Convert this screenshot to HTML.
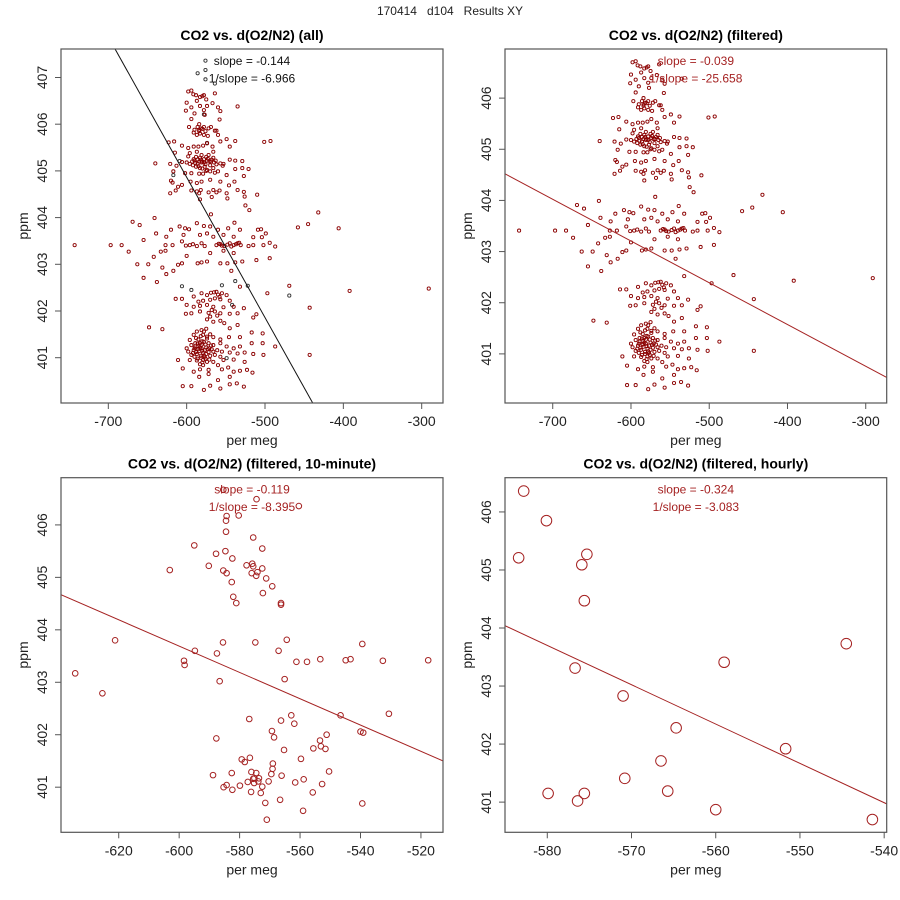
<!DOCTYPE html>
<html><head><meta charset="utf-8"><style>
html,body{margin:0;padding:0;background:#fff;}
svg{display:block;font-family:"Liberation Sans",sans-serif;}
</style></head><body>
<svg id="chart" width="900" height="900" viewBox="0 0 900 900" xmlns="http://www.w3.org/2000/svg">
<rect width="900" height="900" fill="#fff"/>
<text x="450" y="15" font-size="12" text-anchor="middle" fill="#222" xml:space="preserve">170414   d104   Results XY</text>
</svg>
<script>
// ---- data ----
const filteredPoints = [
[-598,406.7],[-594,406.72],[-591.5,406.64],[-587,406.5],[-580,406.6],[-578,406.62],[-575,406.53],[-564,406.66],[-600,406.46],[-594,406.36],[-583,406.39],[-578,406.3],[-574,406.39],[-567,406.45],[-560,406.36],[-557,406.28],[-535,406.38],[-601,406.29],[-590,406.23],[-577,406.2],[-558,406.1],[-594,406.11],[-584,406.0],[-597,405.94],[-586,405.94],[-584,405.88],[-582,405.91],[-578,405.94],[-572,405.91],[-569,405.94],[-564,405.86],[-562,405.86],[-591,405.82],[-587,405.77],[-583,405.8],[-578,405.77],[-573,405.75],[-560,405.77],
[-623,405.61],[-616,405.63],[-606,405.54],[-598,405.49],[-591,405.52],[-585,405.52],[-579,405.54],[-574,405.59],[-567,405.52],[-557,405.63],[-549,405.68],[-545,405.52],[-538,405.64],[-501,405.62],[-493,405.64],[-615,405.39],[-596,405.38],[-587,405.41],[-581,405.34],[-572,405.34],[-566,405.41],[-598,405.31],[-591,405.25],[-586,405.24],[-584,405.2],[-581,405.18],[-578,405.25],[-574,405.22],[-571,405.2],[-568,405.24],[-565,405.18],[-562,405.14],[-557,405.16],[-553,405.15],[-545,405.24],[-538,405.22],[-529,405.21],[-640,405.16],[-621,405.15],[-613,405.11],[-606,405.19],[-600,405.18],[-596,405.15],[-592,405.12],[-588,405.09],[-583,405.06],[-577,405.09],[-574,405.02],[-570,404.99],[-566,405.06],[-560,404.99],[-554,405.11],[-538,405.04],[-529,405.06],[-521,405.04],[-617,404.99],[-602,404.95],[-594,404.95],[-584,404.94],[-579,404.94],[-564,404.96],[-549,404.91],[-527,404.89],
[-590,405.22],[-583,405.28],[-578,405.18],[-575,405.3],[-570,405.12],[-586,405.15],
[-593,405.2],[-589,405.17],[-585,405.1],[-582,405.24],[-580,405.2],[-576,405.14],[-573,405.26],[-569,405.2],[-566,405.28],[-563,405.22],[-588,405.3],[-580,405.05],[-575,405.0],[-584,405.85],[-576,405.85],[-580,405.9],[-590,405.88],[-583,406.58],[-588,406.62],
[-620,404.79],[-618,404.75],[-606,404.7],[-595,404.77],[-587,404.74],[-581,404.77],[-570,404.81],[-557,404.77],[-546,404.69],[-539,404.77],[-611,404.66],[-594,404.58],[-587,404.56],[-582,404.59],[-572,404.54],[-566,404.59],[-558,404.58],[-535,404.59],[-614,404.58],[-621,404.52],[-584,404.52],[-562,404.54],[-549,404.52],[-527,404.55],[-510,404.49],[-583,404.39],[-568,404.44],[-548,404.41],[-526,404.45],[-525,404.26],[-520,404.16],[-569,404.07],
[-669,403.91],[-660,403.84],[-641,403.99],[-620,403.74],[-609,403.81],[-602,403.77],[-597,403.75],[-587,403.88],[-578,403.82],[-570,403.81],[-560,403.74],[-547,403.77],[-539,403.89],[-532,403.74],[-509,403.74],[-505,403.75],[-499,403.66],[-458,403.79],[-445,403.86],[-432,404.11],[-406,403.77],[-639,403.66],[-626,403.59],[-604,403.63],[-583,403.63],[-574,403.66],[-566,403.59],[-553,403.63],[-540,403.59],[-515,403.58],[-504,403.58],[-655,403.52],[-627,403.41],[-618,403.41],[-606,403.49],[-596,403.41],[-587,403.39],[-581,403.45],[-577,403.39],[-562,403.41],[-557,403.43],[-552,403.39],[-545,403.45],[-540,403.41],[-535,403.45],[-531,403.41],[-521,403.39],[-515,403.41],[-502,403.41],[-494,403.46],[-487,403.38],[-743,403.41],[-697,403.41],[-683,403.41],[-674,403.27],[-642,403.16],[-633,403.27],[-627,403.29],[-600,403.18],[-570,403.24],[-553,403.29],[-540,403.24],[-511,403.09],[-494,403.13],
[-559,403.44],[-555,403.4],[-548,403.42],[-543,403.38],[-537,403.43],[-533,403.46],[-601,403.4],[-592,403.43],
[-663,403.0],[-649,403.0],[-631,402.93],[-626,402.79],[-617,402.86],[-611,402.99],[-606,403.02],[-586,403.02],[-581,403.04],[-574,403.06],[-557,403.02],[-548,403.02],[-538,403.04],[-529,403.06],[-655,402.71],[-638,402.62],[-543,402.86],[-532,402.52],[-497,402.38],[-469,402.54],[-392,402.43],[-291,402.48],[-443,402.07],[-443,401.06],
[-614,402.26],[-606,402.26],[-591,402.31],[-581,402.38],[-574,402.34],[-569,402.39],[-562,402.41],[-555,402.38],[-549,402.34],[-585,402.2],[-579,402.22],[-570,402.24],[-564,402.27],[-557,402.25],[-545,402.22],[-600,402.13],[-591,402.09],[-583,402.11],[-574,402.13],[-566,402.09],[-553,402.08],[-540,402.09],[-527,402.06],[-601,401.94],[-594,401.95],[-583,401.99],[-572,401.96],[-564,401.99],[-557,401.95],[-545,401.94],[-535,401.95],[-511,401.93],[-574,401.82],[-566,401.77],[-557,401.79],[-552,401.74],[-535,401.7],[-515,401.86],[-545,401.63],[-648,401.65],[-631,401.61],
[-560,402.35],[-565,402.4],[-558,402.3],[-568,402.02],[-561,401.9],[-570,401.88],
[-587,401.56],[-581,401.59],[-591,401.49],[-579,401.49],[-596,401.38],[-585,401.39],[-574,401.41],[-566,401.44],[-557,401.39],[-546,401.44],[-532,401.44],[-517,401.54],[-503,401.52],[-600,401.2],[-594,401.27],[-589,401.31],[-583,401.31],[-578,401.34],[-572,401.31],[-566,401.27],[-557,401.31],[-549,401.24],[-540,401.2],[-532,401.24],[-517,401.31],[-503,401.31],[-487,401.24],[-598,401.13],[-591,401.16],[-585,401.18],[-581,401.2],[-577,401.16],[-571,401.2],[-566,401.13],[-561,401.16],[-555,401.13],[-545,401.11],[-535,401.09],[-526,401.11],[-515,401.08],[-502,401.06],[-594,401.06],[-587,401.08],[-582,401.04],[-575,401.08],[-570,401.04],[-564,401.06],[-557,401.02],[-611,400.95],[-596,400.95],[-587,400.94],[-579,400.95],[-574,400.91],[-566,400.91],[-553,400.95],[-540,400.96],[-526,400.91],[-583,400.86],[-579,400.84],[-560,400.84],[-547,400.79],[-532,400.72],[-605,400.77],[-591,400.7],[-583,400.75],[-572,400.74],[-555,400.75],[-540,400.7],[-523,400.74],[-516,400.68],[-584,400.59],[-560,400.52],[-545,400.59],[-572,400.65],[-605,400.39],[-594,400.39],[-578,400.31],[-570,400.4],[-557,400.34],[-545,400.43],[-536,400.45],[-527,400.38],
[-590,401.2],[-585,401.25],[-580,401.15],[-578,401.05],[-575,401.22],[-572,401.12],[-568,401.18],[-582,401.0],[-586,400.98],[-576,400.98],[-580,401.35],[-574,401.45],[-588,401.42],[-570,401.5],[-579,401.1],[-583,401.22],[-576,401.28],[-588,401.12],
[-592,401.1],[-589,401.24],[-584,401.14],[-581,401.28],[-577,401.02],[-573,401.18],[-569,401.26],[-586,401.3],[-582,401.46],[-578,401.56],[-575,401.62],[-590,401.02],[-580,400.9],[-571,400.96]
];
const rejectedPoints = [
[-586,407.09],[-576,407.36],[-576,407.16],[-576,406.96],[-564,406.87],[-578,406.21],[-574,405.6],[-609,405.21],[-617,404.91],[-555,402.55],[-606,402.53],[-594,402.45],[-542,402.13],[-522,402.54],[-469,402.33],[-538,402.64],[-549,400.99]
];
const tenMinuteX = [-634.4,-625.4,-621.2,-603.1,-598.4,-598.2,-595.0,-594.8,-590.2,-587.8,-587.5,-587.7,-586.6,-588.8,-585.4,-585.5,-585.3,-584.7,-584.3,-584.3,-584.5,-584.5,-584.3,-582.6,-582.4,-582.6,-582.4,-582.1,-581.1,-580.3,-579.9,-579.3,-578.3,-577.7,-577.3,-576.8,-576.6,-576.2,-576.1,-576.0,-575.8,-575.5,-575.5,-575.5,-575.2,-575.1,-574.8,-574.5,-574.5,-574.4,-574.1,-573.8,-573.6,-573.0,-572.5,-572.5,-572.3,-572.5,-571.5,-571.2,-571.0,-570.4,-569.5,-569.3,-569.2,-569.1,-569.0,-568.6,-567.1,-566.6,-566.3,-566.3,-566.1,-565.3,-565.1,-564.4,-562.9,-561.9,-561.6,-561.2,-560.4,-559.7,-559.0,-558.8,-557.7,-555.8,-555.6,-553.4,-553.3,-553.1,-552.7,-551.6,-551.2,-550.4,-546.6,-544.9,-543.3,-540.0,-539.4,-539.4,-539.1,-532.6,-530.6,-517.6,-566.3,-585.4];
const tenMinuteY = [403.17,402.79,403.80,405.14,403.41,403.33,405.61,403.60,405.22,405.45,403.55,401.93,403.02,401.23,405.13,403.76,401.00,405.50,401.04,405.08,405.87,406.08,406.17,404.91,405.36,401.27,400.95,404.63,404.51,406.18,401.03,401.53,401.48,405.23,401.10,402.30,401.56,400.91,401.29,405.08,405.26,405.76,405.21,401.16,401.08,401.17,403.76,401.27,405.03,406.49,405.10,401.11,401.17,400.89,405.55,405.17,404.70,401.01,400.70,404.98,400.38,401.11,401.25,402.07,404.83,401.35,401.45,401.95,403.60,400.76,402.27,404.51,401.22,401.71,403.06,403.81,402.37,402.21,401.09,403.39,406.36,401.54,400.55,401.15,403.39,400.90,401.74,401.89,403.44,401.78,401.06,401.73,402.00,401.30,402.37,403.42,403.44,402.06,403.73,400.69,402.04,403.41,402.40,403.42,404.48,406.67];
const hourlyX = [-582.8,-580.1,-583.4,-575.9,-575.3,-575.6,-576.7,-571.0,-564.7,-566.5,-559.0,-544.5,-551.7,-579.9,-576.4,-575.6,-570.8,-565.7,-560.0,-541.4];
const hourlyY = [406.36,405.85,405.21,405.09,405.27,404.47,403.31,402.83,402.28,401.71,403.41,403.73,401.92,401.15,401.02,401.15,401.41,401.19,400.87,400.70];
// fitted line endpoints (data units)
const fitAllX = [-691.4,-439.1], fitAllY = [407.61,400.03];
const fitFiltX = [-761,-273.2], fitFiltY = [404.52,400.54];
const fitTenX = [-639.1,-512.7], fitTenY = [404.67,401.50];
const fitHourX = [-585.02,-539.7], fitHourY = [404.04,400.97];
const xTicksWide = [-700,-600,-500,-400,-300];
const xTicksTen = [-620,-600,-580,-560,-540,-520];
const xTicksHour = [-580,-570,-560,-550,-540];
const yTicksAll = [401,402,403,404,405,406,407];
const yTicks6 = [401,402,403,404,405,406];

const NS = "http://www.w3.org/2000/svg";
const svg = document.getElementById('chart');
const RED = "#8b0000", RED2 = "#a52222";
function mk(tag, attrs, parent){const e=document.createElementNS(NS,tag);for(const k in attrs)e.setAttribute(k,attrs[k]);(parent||svg).appendChild(e);return e;}

function panel(cfg){
  const g = mk('g',{});
  
  
  const [L,T,R,B] = cfg.box;
  const sx = v => L + (v-cfg.xd[0])/(cfg.xd[1]-cfg.xd[0])*(R-L);
  const sy = v => B - (v-cfg.yd[0])/(cfg.yd[1]-cfg.yd[0])*(B-T);
  const cx=(L+R)/2;
  const t = mk('text',{x:cx,y:T-9,'font-size':14,'font-weight':'bold','text-anchor':'middle',fill:'#000'},g);
  t.textContent=cfg.title;
  
  
  const cg = mk('g',{'clip-path':'url(#'+cfg.clip+')'},g);
  const cp = mk('clipPath',{id:cfg.clip},g); mk('rect',{x:L,y:T,width:R-L,height:B-T},cp);
  cfg.series.forEach(s=>{
    for(let i=0;i<s.x.length;i++){
      const c = mk('circle',{cx:sx(s.x[i]),cy:sy(s.y[i]),r:s.r,fill:'none',stroke:s.color,'stroke-width':s.sw},cg);
      
      
    }
  });
  const ln = mk('line',{x1:sx(cfg.fx[0]),y1:sy(cfg.fy[0]),x2:sx(cfg.fx[1]),y2:sy(cfg.fy[1]),stroke:cfg.lcolor,'stroke-width':1},cg);
  
  
  cfg.notes.forEach((n,i)=>{
    const a = mk('text',{x:cx,y:T+16+i*17.5,'font-size':12,'text-anchor':'middle',fill:cfg.tcolor},g);
    a.textContent=n;
    
    
  });
  const box = mk('rect',{x:L,y:T,width:R-L,height:B-T,fill:'none',stroke:'#555','stroke-width':1.2},g);
  
  
  cfg.xt.forEach(v=>{
    const x=sx(v);
    mk('line',{x1:x,y1:B,x2:x,y2:B+6,stroke:'#555'},g);
    const tl=mk('text',{x:x,y:B+23,'font-size':14,'text-anchor':'middle',fill:'#222'},g);
    tl.textContent=v;
    
    
  });
  cfg.yt.forEach(v=>{
    const y=sy(v);
    mk('line',{x1:L,y1:y,x2:L-6,y2:y,stroke:'#555'},g);
    const tl=mk('text',{x:L-14,y:y,'font-size':14,'text-anchor':'middle',fill:'#222',transform:'rotate(-90 '+(L-14)+' '+y+')'},g);
    tl.textContent=v;
    
    
  });
  const xl=mk('text',{x:cx,y:B+42,'font-size':14,'text-anchor':'middle',fill:'#222'},g);
  xl.textContent='per meg';
  
  
  const ym=(T+B)/2, yx=L-33;
  const yl=mk('text',{x:yx,y:ym,'font-size':14,'text-anchor':'middle',fill:'#222',transform:'rotate(-90 '+yx+' '+ym+')'},g);
  yl.textContent='ppm';
  
  
}
const fX = filteredPoints.map(p=>p[0]), fY = filteredPoints.map(p=>p[1]);
const rX = rejectedPoints.map(p=>p[0]), rY = rejectedPoints.map(p=>p[1]);

panel({name:'panel-all',clip:'c1',box:[61,49,443,403],xd:[-760.4,-272.8],yd:[400.03,407.61],title:'CO2 vs. d(O2/N2) (all)',
  series:[{x:rX,y:rY,r:1.6,color:'#333',sw:0.9,pname:'all-point'},{x:fX,y:fY,r:1.6,color:RED,sw:0.9,pname:'filtered-point'}],
  fx:fitAllX,fy:fitAllY,lcolor:'#111',tcolor:'#111',notes:['slope = -0.144','1/slope = -6.966'],xt:xTicksWide,yt:yTicksAll});
panel({name:'panel-filtered',clip:'c2',box:[505,49,886.7,403],xd:[-761,-273.2],yd:[400.04,406.96],title:'CO2 vs. d(O2/N2) (filtered)',
  series:[{x:fX,y:fY,r:1.6,color:RED,sw:0.9,pname:'filtered-point'}],
  fx:fitFiltX,fy:fitFiltY,lcolor:RED2,tcolor:RED2,notes:['slope = -0.039','1/slope = -25.658'],xt:xTicksWide,yt:yTicks6});
panel({name:'panel-10-minute',clip:'c3',box:[61,477.7,443,832.3],xd:[-639.1,-512.7],yd:[400.14,406.9],title:'CO2 vs. d(O2/N2) (filtered, 10-minute)',
  series:[{x:tenMinuteX,y:tenMinuteY,r:2.8,color:RED2,sw:1,pname:'ten-minute-point'}],
  fx:fitTenX,fy:fitTenY,lcolor:RED2,tcolor:RED2,notes:['slope = -0.119','1/slope = -8.395'],xt:xTicksTen,yt:yTicks6});
panel({name:'panel-hourly',clip:'c4',box:[505,477.7,886.7,832.3],xd:[-585.02,-539.7],yd:[400.48,406.59],title:'CO2 vs. d(O2/N2) (filtered, hourly)',
  series:[{x:hourlyX,y:hourlyY,r:5.3,color:RED2,sw:1,pname:'hourly-point'}],
  fx:fitHourX,fy:fitHourY,lcolor:RED2,tcolor:RED2,notes:['slope = -0.324','1/slope = -3.083'],xt:xTicksHour,yt:yTicks6});
</script>
</body></html>
